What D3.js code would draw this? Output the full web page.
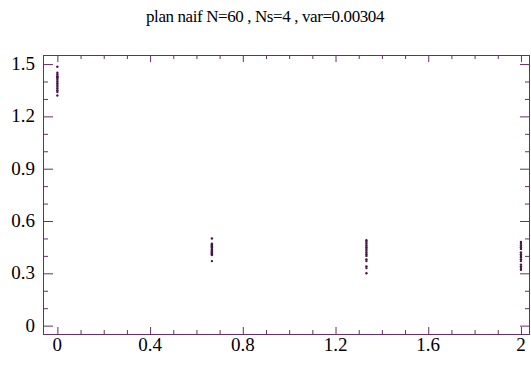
<!DOCTYPE html>
<html>
<head>
<meta charset="utf-8">
<script src="https://cdn.jsdelivr.net/npm/d3@7"></script>
<style>
  body { margin: 0; background: #fff; }
  svg { display: block; }
</style>
</head>
<body>
<svg id="chart"></svg>
<script>
// design points (x) and the sampled values at each of them
const designX = [0, 2 / 3, 4 / 3, 2];
const values0 = [1.485, 1.45, 1.44, 1.43, 1.425, 1.42, 1.41, 1.40, 1.39, 1.38, 1.37, 1.36, 1.35, 1.34, 1.32];
const values1 = [0.50, 0.47, 0.465, 0.46, 0.455, 0.45, 0.44, 0.435, 0.43, 0.425, 0.42, 0.415, 0.41, 0.405, 0.37];
const values2 = [0.49, 0.48, 0.47, 0.46, 0.45, 0.44, 0.43, 0.42, 0.41, 0.40, 0.38, 0.37, 0.34, 0.33, 0.30];
const values3 = [0.48, 0.47, 0.46, 0.45, 0.44, 0.42, 0.41, 0.40, 0.39, 0.38, 0.37, 0.35, 0.34, 0.33, 0.32];
const xMajor = [0, 0.4, 0.8, 1.2, 1.6, 2];
const xLabels = ["0", "0.4", "0.8", "1.2", "1.6", "2"];
const yMajor = [0, 0.3, 0.6, 0.9, 1.2, 1.5];
const yLabels = ["0", "0.3", "0.6", "0.9", "1.2", "1.5"];
const title = "plan naif N=60 , Ns=4 , var=0.00304";

const width = 531, height = 365;
const frame = {left: 43, right: 530, top: 55, bottom: 334};
const frameColor = "#6b2c6b";
const dotColor = "#4a1548";
const font = "'Liberation Serif', 'Times New Roman', serif";

const allValues = [values0, values1, values2, values3];
const points = [];
allValues.forEach((vals, i) => vals.forEach(v => points.push({x: designX[i], y: v})));

const x = d3.scaleLinear().domain([-0.062, 2.039]).range([frame.left, frame.right]);
const y = d3.scaleLinear().domain([-0.048, 1.552]).range([frame.bottom, frame.top]);

const xMinor = d3.range(0, 21).map(d => d / 10).filter(d => !xMajor.some(m => Math.abs(m - d) < 1e-9));
const yMinor = d3.range(0, 16).map(d => d / 10).filter(d => !yMajor.some(m => Math.abs(m - d) < 1e-9));

const svg = d3.select("#chart").attr("width", width).attr("height", height);

svg.append("text")
  .attr("x", 265)
  .attr("y", 22)
  .attr("text-anchor", "middle")
  .attr("font-family", font)
  .attr("font-size", 17)
  .attr("letter-spacing", -0.4)
  .text(title);

// ticks, pointing inward on all four sides
function ticks(axis, vals, size) {
  return axis.tickValues(vals).tickSize(-size).tickFormat("");
}

const gx = svg.append("g").attr("transform", `translate(0,${frame.bottom})`);
gx.call(ticks(d3.axisBottom(x), xMajor, 7));
gx.call(g => g.append("g").call(ticks(d3.axisBottom(x), xMinor, 4)));
const gxt = svg.append("g").attr("transform", `translate(0,${frame.top})`);
gxt.call(ticks(d3.axisTop(x), xMajor, 7));
gxt.call(g => g.append("g").call(ticks(d3.axisTop(x), xMinor, 4)));

const gy = svg.append("g").attr("transform", `translate(${frame.left},0)`);
gy.call(ticks(d3.axisLeft(y), yMajor, 10));
gy.call(g => g.append("g").call(ticks(d3.axisLeft(y), yMinor, 5)));
const gyr = svg.append("g").attr("transform", `translate(${frame.right},0)`);
gyr.call(ticks(d3.axisRight(y), yMajor, 10));
gyr.call(g => g.append("g").call(ticks(d3.axisRight(y), yMinor, 5)));

svg.selectAll(".domain").remove();
svg.selectAll(".tick line").attr("stroke", frameColor).attr("stroke-width", 1);

// tick labels
svg.append("g").selectAll("text")
  .data(xMajor)
  .join("text")
  .attr("x", d => x(d))
  .attr("y", 351)
  .attr("text-anchor", "middle")
  .attr("font-family", font)
  .attr("font-size", 19)
  .text((d, i) => xLabels[i]);

svg.append("g").selectAll("text")
  .data(yMajor)
  .join("text")
  .attr("x", 35)
  .attr("y", d => y(d) + 6)
  .attr("text-anchor", "end")
  .attr("font-family", font)
  .attr("font-size", 19)
  .text((d, i) => yLabels[i]);

// frame
svg.append("rect")
  .attr("x", frame.left + 0.5)
  .attr("y", frame.top + 0.5)
  .attr("width", frame.right - frame.left - 1)
  .attr("height", frame.bottom - frame.top)
  .attr("fill", "none")
  .attr("stroke", frameColor)
  .attr("stroke-width", 1);

svg.append("g").selectAll("circle")
  .data(points)
  .join("circle")
  .attr("cx", d => x(d.x))
  .attr("cy", d => y(d.y))
  .attr("r", 1.2)
  .attr("fill", dotColor);
</script>
</body>
</html>
